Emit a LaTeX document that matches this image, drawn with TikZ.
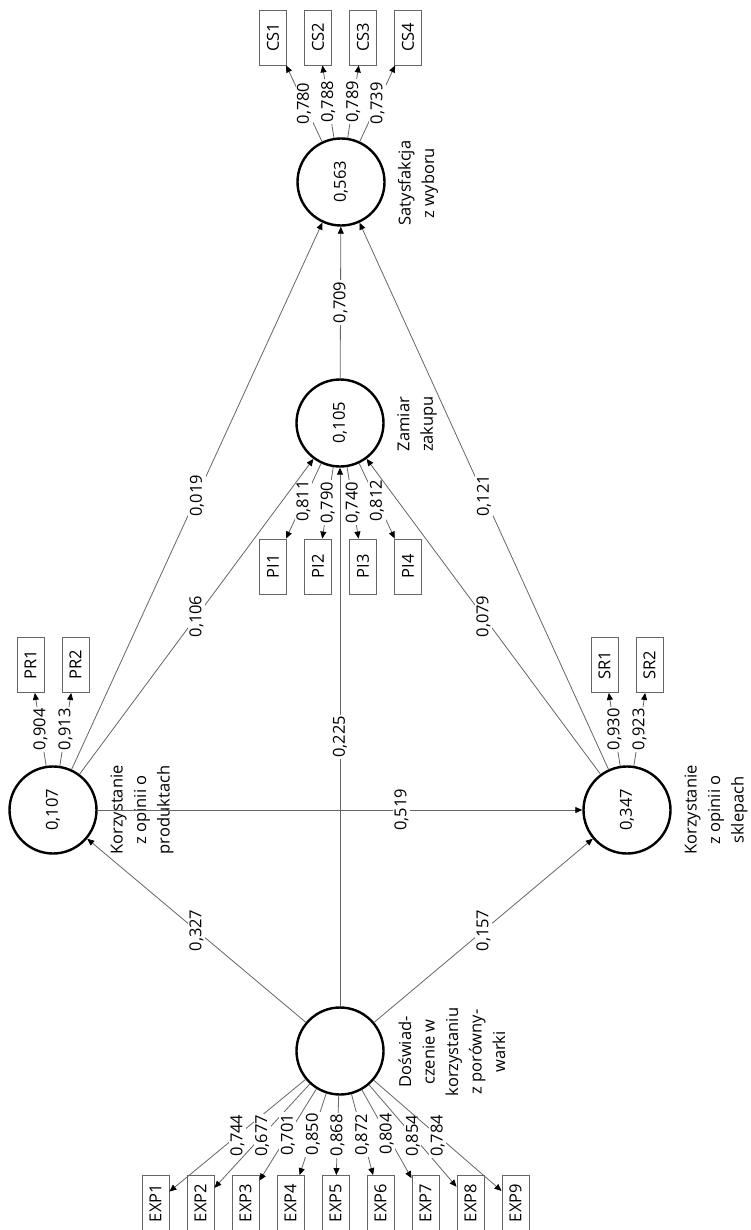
\documentclass[tikz,border=0pt]{standalone}
\usepackage{fontspec}
\setmainfont{Open Sans}
\usetikzlibrary{arrows.meta}
\newcommand\myfs{\fontsize{16.5}{23.5}\selectfont}
\begin{document}
\begin{tikzpicture}[x=1pt,y=-1pt,
  lat/.style={circle,draw=black,line width=2.4pt,minimum size=87pt,inner sep=0pt,font=\myfs,rotate=90},
  ind/.style={rectangle,draw=black!60,line width=0.9pt,minimum width=55pt,minimum height=27pt,inner sep=0pt,rotate=90,font=\myfs},
  conn/.style={draw=black!60,line width=0.8pt,-{Triangle[length=7pt,width=6pt,color=black]}},
  val/.style={fill=white,inner sep=1.5pt,rotate=90,font=\myfs},
  lname/.style={rotate=90,align=center,font=\myfs},
]
\useasboundingbox[fill=white] (0,0) rectangle (751,1230);

% latent variables
\node[lat] (S) at (341,182) {0,563};
\node[lat] (Z) at (340,423) {0,105};
\node[lat] (PR) at (53,810) {0,107};
\node[lat] (SR) at (627,810) {0,347};
\node[lat] (D) at (340,1051) {};

% names
\node[lname] (nS) at (418,183) {Satysfakcja\\z wyboru};
\node[lname] (nZ) at (417,424) {Zamiar\\zakupu};
\node[lname] (nPR) at (142,810) {Korzystanie\\z opinii o\\produktach};
\node[lname] (nSR) at (716,810) {Korzystanie\\z opinii o\\sklepach};
\node[lname] (nD) at (452,1052) {Doświad-\\czenie w\\korzystaniu\\z porówny-\\warki};

% indicators
\node[ind] (CS1) at (273,37.5) {CS1};
\node[ind] (CS2) at (318,37.5) {CS2};
\node[ind] (CS3) at (363,37.5) {CS3};
\node[ind] (CS4) at (408,37.5) {CS4};
\node[ind] (PI1) at (273,566.5) {PI1};
\node[ind] (PI2) at (318,566.5) {PI2};
\node[ind] (PI3) at (363,566.5) {PI3};
\node[ind] (PI4) at (408,566.5) {PI4};
\node[ind] (PR1) at (30.5,665) {PR1};
\node[ind] (PR2) at (75.5,665) {PR2};
\node[ind] (SR1) at (604.5,665) {SR1};
\node[ind] (SR2) at (649.5,665) {SR2};
\foreach \i in {1,...,9}{
  \node[ind] (EXP\i) at ({155.5+45*(\i-1)},1203) {EXP\i};
}

% loadings
\draw[conn] (S) -- node[val]{0,780} (CS1);
\draw[conn] (S) -- node[val]{0,788} (CS2);
\draw[conn] (S) -- node[val]{0,789} (CS3);
\draw[conn] (S) -- node[val]{0,739} (CS4);
\draw[conn] (Z) -- node[val]{0,811} (PI1);
\draw[conn] (Z) -- node[val]{0,790} (PI2);
\draw[conn] (Z) -- node[val]{0,740} (PI3);
\draw[conn] (Z) -- node[val]{0,812} (PI4);
\draw[conn] (PR) -- node[val]{0,904} (PR1);
\draw[conn] (PR) -- node[val]{0,913} (PR2);
\draw[conn] (SR) -- node[val]{0,930} (SR1);
\draw[conn] (SR) -- node[val]{0,923} (SR2);
\draw[conn] (D) -- node[val]{0,744} (EXP1);
\draw[conn] (D) -- node[val]{0,677} (EXP2);
\draw[conn] (D) -- node[val]{0,701} (EXP3);
\draw[conn] (D) -- node[val]{0,850} (EXP4);
\draw[conn] (D) -- node[val]{0,868} (EXP5);
\draw[conn] (D) -- node[val]{0,872} (EXP6);
\draw[conn] (D) -- node[val]{0,804} (EXP7);
\draw[conn] (D) -- node[val]{0,854} (EXP8);
\draw[conn] (D) -- node[val]{0,784} (EXP9);

% structural paths
\draw[conn] (D) -- node[val]{0,327} (PR);
\draw[conn] (D) -- node[val]{0,157} (SR);
\draw[conn] (D) -- node[val]{0,225} (Z);
\draw[conn] (PR) -- node[val,pos=0.627]{0,519} (SR);
\draw[conn] (PR) -- node[val]{0,106} (Z);
\draw[conn] (PR) -- node[val]{0,019} (S);
\draw[conn] (SR) -- node[val]{0,079} (Z);
\draw[conn] (SR) -- node[val]{0,121} (S);
\draw[conn] (Z) -- node[val]{0,709} (S);
\end{tikzpicture}
\end{document}
